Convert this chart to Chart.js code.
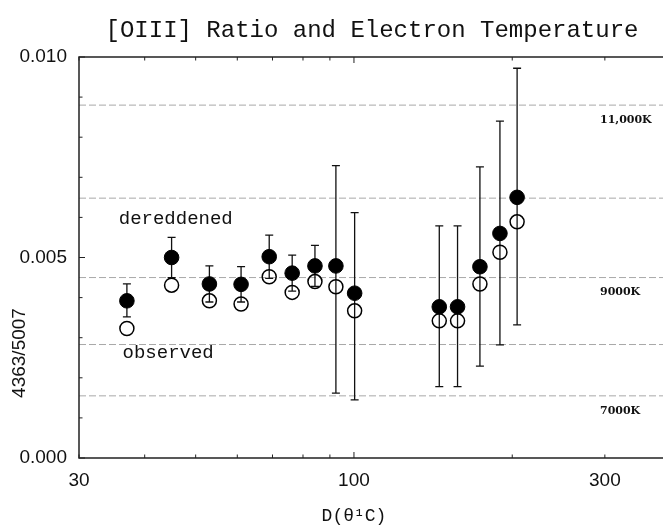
<!DOCTYPE html>
<html><head><meta charset="utf-8">
<script src="https://cdn.jsdelivr.net/npm/chart.js@4/dist/chart.umd.min.js"></script>
<style>html,body{margin:0;padding:0;background:#fff}#wrap{width:663px;height:525px;position:relative}</style>
</head><body><div id="wrap"><canvas id="c"></canvas></div>
<script>
// ---- data ----
const distances  = [37.0, 45.0, 53.1, 61.0, 69.0, 76.3, 84.3, 92.4, 100.3, 145.3, 157.4, 173.6, 189.5, 204.3];
const dereddened = [0.00392, 0.00500, 0.00434, 0.00433, 0.00502, 0.00461, 0.00479, 0.00479, 0.00411, 0.00377, 0.00377, 0.00477, 0.00560, 0.00650];
const observed   = [0.00323, 0.00431, 0.00392, 0.00384, 0.00452, 0.00413, 0.00440, 0.00427, 0.00367, 0.00342, 0.00342, 0.00434, 0.00513, 0.00589];
const errHigh    = [0.00434, 0.00550, 0.00479, 0.00477, 0.00556, 0.00506, 0.00530, 0.00729, 0.00612, 0.00579, 0.00579, 0.00726, 0.00840, 0.00972];
const errLow     = [0.00352, 0.00450, 0.00389, 0.00389, 0.00448, 0.00416, 0.00428, 0.00162, 0.00145, 0.00178, 0.00178, 0.00229, 0.00282, 0.00332];
const tempLevels = [0.00880, 0.00648, 0.00450, 0.00283, 0.00155];
const tempLabels = ['11,000K', '', '9000K', '', '7000K'];
const xTicks     = [30, 40, 50, 60, 70, 80, 90, 100, 200, 300];
const xLabeled   = [30, 100, 300];
const yTicks     = [0, 0.001, 0.002, 0.003, 0.004, 0.005, 0.006, 0.007, 0.008, 0.009, 0.010];
const yLabeled   = [0, 0.005, 0.010];
const yLabelText = ['0.000', '0.005', '0.010'];
const X_MIN = 30, X_MAX = 387, Y_MIN = 0, Y_MAX = 0.010;

const MONO = '"Liberation Mono", monospace';
const SANS = '"Liberation Sans", Arial, sans-serif';

const ptsDer = distances.map((d, i) => ({x: d, y: dereddened[i]}));
const ptsObs = distances.map((d, i) => ({x: d, y: observed[i]}));
const tempSets = tempLevels.map(v => ({
  type: 'line',
  data: [{x: X_MIN, y: v}, {x: X_MAX, y: v}],
  borderColor: '#a8a8a8', borderWidth: 1, borderDash: [7, 3],
  pointRadius: 0, fill: false
}));

const deco = {
  id: 'deco',
  afterDatasetDraw(chart, args) {
    if (args.index !== 2) return;
    const {ctx, scales: {x, y}} = chart;
    ctx.save();
    ctx.strokeStyle = '#111'; ctx.lineWidth = 1.3;
    distances.forEach((d, i) => {
      const px = x.getPixelForValue(d);
      const t = y.getPixelForValue(errHigh[i]), b = y.getPixelForValue(errLow[i]);
      ctx.beginPath();
      ctx.moveTo(px, t); ctx.lineTo(px, b);
      ctx.moveTo(px - 4, t); ctx.lineTo(px + 4, t);
      ctx.moveTo(px - 4, b); ctx.lineTo(px + 4, b);
      ctx.stroke();
    });
    ctx.restore();
  },
  afterDraw(chart) {
    const {ctx, chartArea: a, scales: {x, y}} = chart;
    ctx.save();
    // frame
    ctx.strokeStyle = '#222'; ctx.lineWidth = 1.5;
    ctx.beginPath();
    ctx.moveTo(a.right, a.top); ctx.lineTo(a.left, a.top);
    ctx.lineTo(a.left, a.bottom); ctx.lineTo(a.right, a.bottom);
    ctx.stroke();
    // inward ticks
    ctx.lineWidth = 1;
    ctx.beginPath();
    xTicks.forEach(v => {
      const px = x.getPixelForValue(v);
      const len = v === 100 ? 6 : 3.5;
      ctx.moveTo(px, a.bottom); ctx.lineTo(px, a.bottom - len);
      ctx.moveTo(px, a.top); ctx.lineTo(px, a.top + len);
    });
    yTicks.forEach(v => {
      const py = y.getPixelForValue(v);
      const len = yLabeled.some(l => Math.abs(l - v) < 1e-9) ? 6 : 3.5;
      ctx.moveTo(a.left, py); ctx.lineTo(a.left + len, py);
    });
    ctx.stroke();
    // temperature labels
    ctx.fillStyle = '#111';
    ctx.font = 'bold 11px "DejaVu Serif", serif';
    ctx.textAlign = 'left'; ctx.textBaseline = 'middle';
    tempLevels.forEach((v, i) => {
      if (!tempLabels[i]) return;
      ctx.fillText(tempLabels[i], a.right - 63, y.getPixelForValue(v) + 15);
    });
    // series annotations
    ctx.font = '19px ' + MONO;
    ctx.fillText('dereddened', x.getPixelForValue(35.7), y.getPixelForValue(0.00596));
    ctx.fillText('observed', x.getPixelForValue(36.3), y.getPixelForValue(0.00262));
    // title
    ctx.textAlign = 'center';
    ctx.font = '24px ' + MONO;
    ctx.fillText('[OIII] Ratio and Electron Temperature', 372, 31);
    // x title
    ctx.font = '18px ' + MONO;
    ctx.fillText('D(θ¹C)', 354, 516);
    // y title
    ctx.font = '19px ' + SANS;
    ctx.translate(20, 353); ctx.rotate(-Math.PI / 2);
    ctx.fillText('4363/5007', 0, 0);
    ctx.restore();
  }
};

new Chart(document.getElementById('c'), {
  type: 'scatter',
  data: {
    datasets: [
      {label: 'dereddened', data: ptsDer, pointRadius: 7.3, pointHoverRadius: 7.3,
       backgroundColor: '#000', borderColor: '#000', borderWidth: 1},
      {label: 'observed', data: ptsObs, pointRadius: 7, pointHoverRadius: 7,
       backgroundColor: 'rgba(0,0,0,0)', borderColor: '#000', borderWidth: 1.5},
      ...tempSets
    ]
  },
  options: {
    responsive: true, maintainAspectRatio: false, animation: false,
    layout: {autoPadding: false, padding: {top: 57, left: 0, right: 0, bottom: 0}},
    plugins: {legend: {display: false}, title: {display: false}, tooltip: {enabled: false}},
    scales: {
      x: {
        type: 'logarithmic', min: X_MIN, max: X_MAX,
        grid: {display: false, drawTicks: false}, border: {display: false},
        afterBuildTicks: s => { s.ticks = xTicks.map(v => ({value: v})); },
        afterFit: s => { s.height = 67; },
        ticks: {
          autoSkip: false, maxRotation: 0, padding: 11, color: '#111',
          font: {family: SANS, size: 19},
          callback: v => xLabeled.includes(v) ? String(v) : ''
        }
      },
      y: {
        min: Y_MIN, max: Y_MAX,
        grid: {display: false, drawTicks: false}, border: {display: false},
        afterBuildTicks: s => { s.ticks = yTicks.map(v => ({value: v})); },
        afterFit: s => { s.width = 79; },
        ticks: {
          autoSkip: false, padding: 12, color: '#111',
          font: {family: SANS, size: 19},
          callback: v => { const i = yLabeled.findIndex(l => Math.abs(l - v) < 1e-9); return i >= 0 ? yLabelText[i] : ''; }
        }
      }
    }
  },
  plugins: [deco]
});
</script>
</body></html>
